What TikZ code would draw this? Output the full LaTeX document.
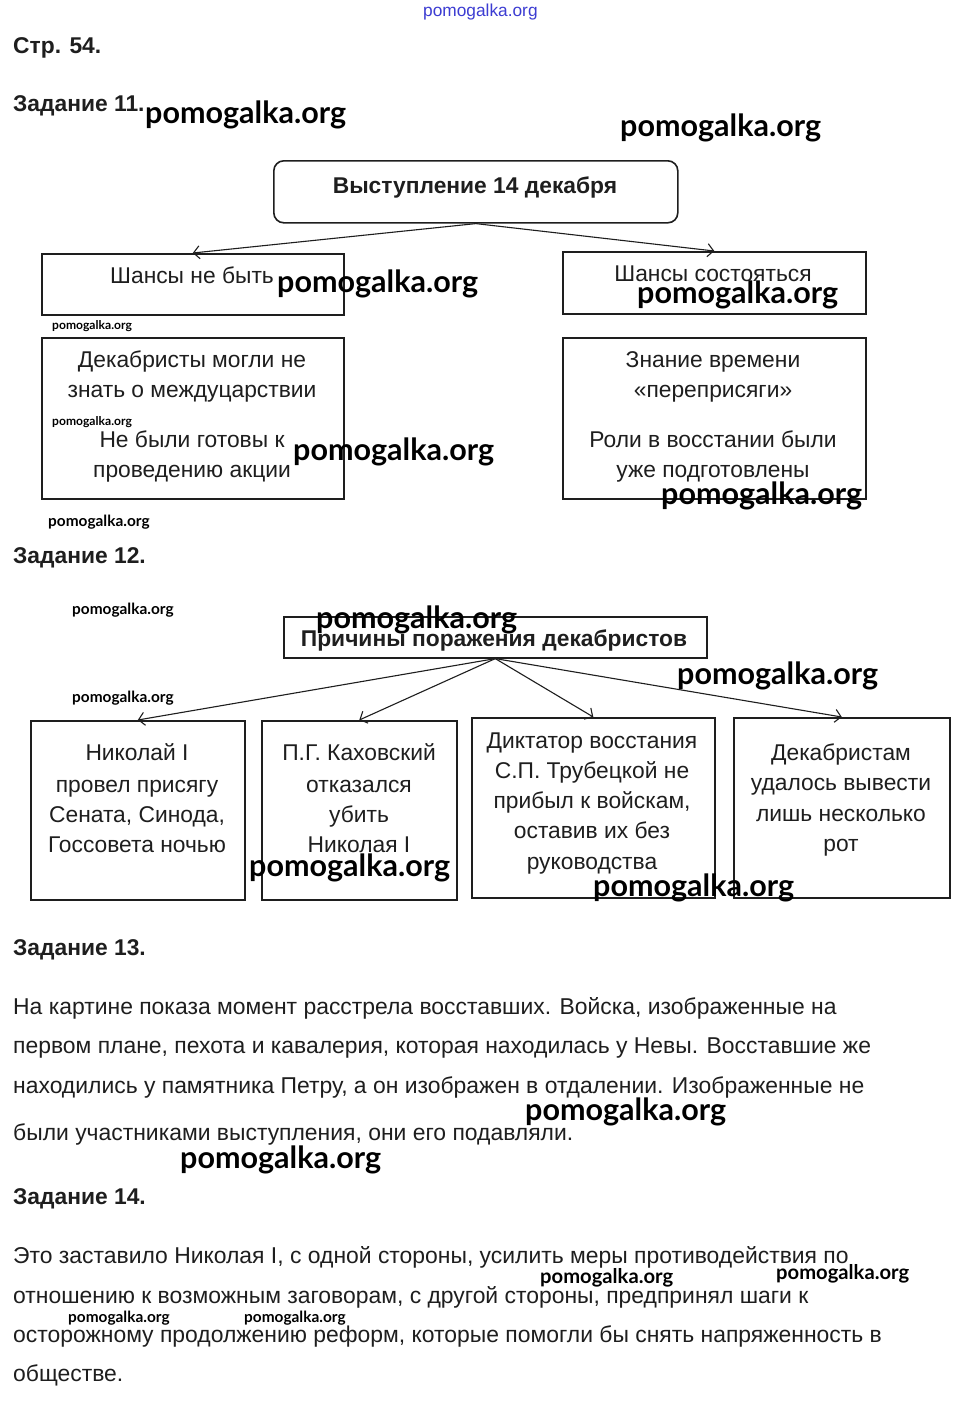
\documentclass[tikz,border=0pt]{standalone}
\usepackage{fontspec}
\setmainfont{Liberation Sans}
\newfontfamily\wmfont{Lato}
\usetikzlibrary{arrows.meta}
\definecolor{wmblue}{RGB}{60,60,210}
\definecolor{ink}{RGB}{30,30,30}
\tikzset{
  box/.style={draw=ink, line width=1.6pt, inner sep=0pt, anchor=north west},
  conn/.style={draw=ink, line width=1.1pt, -{Straight Barb[length=6pt,width=13pt,line width=1.1pt]}},
  body/.style={font=\fontsize{22.9}{26}\selectfont, text=ink, inner sep=0pt, anchor=mid west, yshift=-6pt},
  ctext/.style={font=\fontsize{22.8}{26}\selectfont, text=ink, inner sep=0pt, anchor=mid, yshift=-6pt},
  head/.style={font=\fontsize{22.8}{26}\selectfont\bfseries, text=ink, inner sep=0pt, anchor=mid west, yshift=-6pt},
  btitle/.style={font=\fontsize{22.8}{26}\selectfont\bfseries, text=ink, inner sep=0pt, anchor=mid, yshift=-6pt},
  wmbig/.style={font=\wmfont\bfseries\fontsize{30.5}{33}\selectfont, text=black, inner sep=0pt, anchor=west, yshift=-2pt},
  wmsmall/.style={font=\wmfont\bfseries\fontsize{12.1}{14}\selectfont, text=black, inner sep=0pt, anchor=west},
  wmmid/.style={font=\wmfont\bfseries\fontsize{15.4}{17}\selectfont, text=black, inner sep=0pt, anchor=west},
  wmlarge/.style={font=\wmfont\bfseries\fontsize{20.2}{22}\selectfont, text=black, inner sep=0pt, anchor=west},
}
\begin{document}
\begin{tikzpicture}[x=1pt,y=-1pt]
\useasboundingbox[fill=white] (0,0) rectangle (960,1401);

% top watermark
\node[font=\fontsize{17.3}{20}\selectfont, text=wmblue, inner sep=0pt, anchor=west] (wtop) at (423,12) {pomogalka.org};

\node[head] (h0) at (13,45) {Стр. 54.};
\node[head] (h11) at (13,103) {Задание 11.};

% ---- Task 11 ----
\node[box, rounded corners=10pt, minimum width=404pt, minimum height=62pt] (t11) at (273,160) {};
\node[btitle] (t11t) at (475,185) {Выступление 14 декабря};

\node[box, minimum width=302pt, minimum height=61pt] (a1) at (41,253) {};
\node[ctext] (a1t) at (192,275) {Шансы не быть};
\node[box, minimum width=303pt, minimum height=62pt] (a2) at (562,251) {};
\node[ctext] (a2t) at (713,273) {Шансы состояться};

\draw[conn] (t11.south) -- (a1.north);
\draw[conn] (t11.south) -- (a2.north);

\node[box, minimum width=302pt, minimum height=161pt] (c1) at (41,337) {};
\node[ctext] (c1a) at (192,359) {Декабристы могли не};
\node[ctext] (c1b) at (192,389) {знать о междуцарствии};
\node[ctext] (c1c) at (192,439) {Не были готовы к};
\node[ctext] (c1d) at (192,469) {проведению акции};

\node[box, minimum width=303pt, minimum height=161pt] (c2) at (562,337) {};
\node[ctext] (c2a) at (713,359) {Знание времени};
\node[ctext] (c2b) at (713,389) {«переприсяги»};
\node[ctext] (c2c) at (713,439) {Роли в восстании были};
\node[ctext] (c2d) at (713,469) {уже подготовлены};

% ---- Task 12 ----
\node[head] (h12) at (13,555) {Задание 12.};

\node[box, minimum width=423pt, minimum height=41pt] (t12) at (283,616) {};
\node[btitle] (t12t) at (494,638) {Причины поражения декабристов};

\node[box, minimum width=214pt, minimum height=179pt] (d1) at (30,720) {};
\node[box, minimum width=195pt, minimum height=179pt] (d2) at (261,720) {};
\node[box, minimum width=243pt, minimum height=180pt] (d3) at (471,717) {};
\node[box, minimum width=216pt, minimum height=180pt] (d4) at (733,717) {};

\draw[conn] (t12.south) -- (d1.north);
\draw[conn] (t12.south) -- (d2.north);
\draw[conn] (t12.south) -- (d3.north);
\draw[conn] (t12.south) -- (d4.north);

\node[ctext] (d1a) at (137,752) {Николай I};
\node[ctext] (d1b) at (137,784) {провел присягу};
\node[ctext] (d1c) at (137,814) {Сената, Синода,};
\node[ctext] (d1d) at (137,844) {Госсовета ночью};

\node[ctext] (d2a) at (359,752) {П.Г. Каховский};
\node[ctext] (d2b) at (359,784) {отказался};
\node[ctext] (d2c) at (359,814) {убить};
\node[ctext] (d2d) at (359,844) {Николая I};

\node[ctext] (d3a) at (592,740) {Диктатор восстания};
\node[ctext] (d3b) at (592,770) {С.П. Трубецкой не};
\node[ctext] (d3c) at (592,800) {прибыл к войскам,};
\node[ctext] (d3d) at (592,830) {оставив их без};
\node[ctext] (d3e) at (592,861) {руководства};

\node[ctext] (d4a) at (841,752) {Декабристам};
\node[ctext] (d4b) at (841,782) {удалось вывести};
\node[ctext] (d4c) at (841,813) {лишь несколько};
\node[ctext] (d4d) at (841,843) {рот};

% ---- Task 13 ----
\node[head] (h13) at (13,947) {Задание 13.};
\node[body] (p1) at (13,1006) {На картине показа момент расстрела восставших. Войска, изображенные на};
\node[body] (p2) at (13,1045) {первом плане, пехота и кавалерия, которая находилась у Невы. Восставшие же};
\node[body] (p3) at (13,1085) {находились у памятника Петру, а он изображен в отдалении. Изображенные не};
\node[body] (p4) at (13,1132) {были участниками выступления, они его подавляли.};

% ---- Task 14 ----
\node[head] (h14) at (13,1196) {Задание 14.};
\node[body] (q1) at (13,1255) {Это заставило Николая I, с одной стороны, усилить меры противодействия по};
\node[body] (q2) at (13,1295) {отношению к возможным заговорам, с другой стороны, предпринял шаги к};
\node[body] (q3) at (13,1334) {осторожному продолжению реформ, которые помогли бы снять напряженность в};
\node[body] (q4) at (13,1373) {обществе.};

% ---- watermarks ----
\node[wmbig] (w1) at (145,113) {pomogalka.org};
\node[wmbig] (w2) at (620,126) {pomogalka.org};
\node[wmbig] (w3) at (277,282) {pomogalka.org};
\node[wmbig] (w4) at (637,293) {pomogalka.org};
\node[wmbig] (w5) at (293,450) {pomogalka.org};
\node[wmbig] (w6) at (661,494) {pomogalka.org};
\node[wmsmall] (s1) at (52,326) {pomogalka.org};
\node[wmsmall] (s2) at (52,422) {pomogalka.org};
\node[wmmid] (s3) at (48,522) {pomogalka.org};
\node[wmmid] (s4) at (72,610) {pomogalka.org};
\node[wmmid] (s5) at (72,698) {pomogalka.org};
\node[wmbig] (w7) at (316,618) {pomogalka.org};
\node[wmbig] (w8) at (677,674) {pomogalka.org};
\node[wmbig] (w9) at (249,866) {pomogalka.org};
\node[wmbig] (w10) at (593,886) {pomogalka.org};
\node[wmbig] (w11) at (525,1110) {pomogalka.org};
\node[wmbig] (w12) at (180,1158) {pomogalka.org};
\node[wmlarge] (s6) at (540,1278) {pomogalka.org};
\node[wmlarge] (s7) at (776,1274) {pomogalka.org};
\node[wmmid] (s8) at (68,1318) {pomogalka.org};
\node[wmmid] (s9) at (244,1318) {pomogalka.org};
\end{tikzpicture}
\end{document}
